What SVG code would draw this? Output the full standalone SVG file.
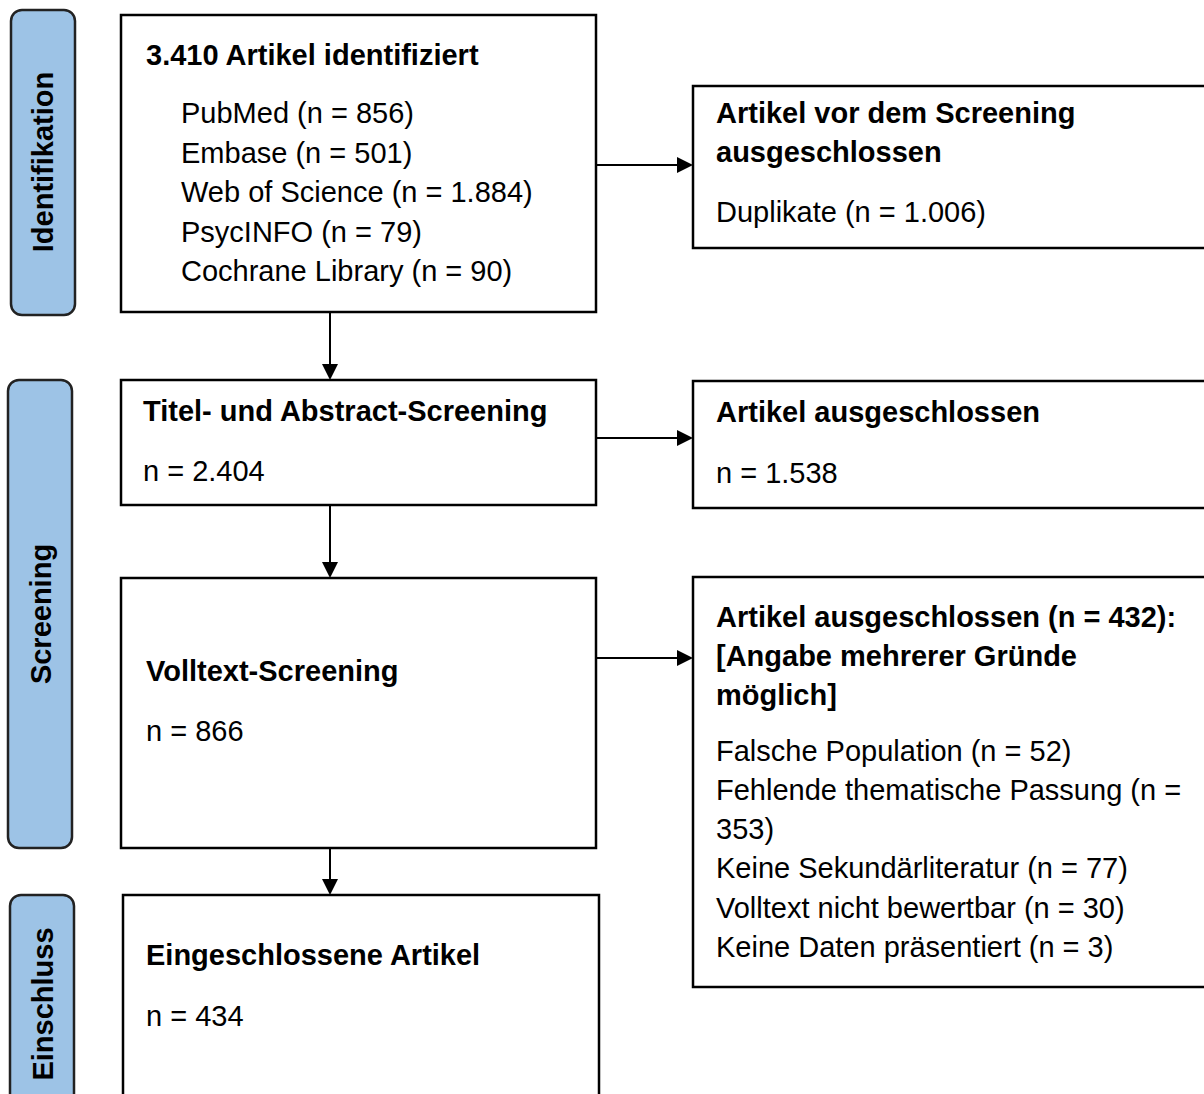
<svg xmlns="http://www.w3.org/2000/svg" width="1204" height="1094" viewBox="0 0 1204 1094">
<style>
.box{fill:#fff;stroke:#000;stroke-width:2.5}
.bar{fill:#9dc3e6;stroke:#222;stroke-width:2.5}
.t{font-family:"Liberation Sans",Arial,sans-serif;font-size:29px;fill:#000}
.b{font-weight:bold}
.v{font-family:"Liberation Sans",Arial,sans-serif;font-size:29px;font-weight:bold;fill:#000;text-anchor:middle}
.c{stroke:#000;stroke-width:2;fill:none}
</style>
<defs>
<marker id="ah" markerWidth="8" markerHeight="8" refX="7" refY="4" orient="auto" markerUnits="strokeWidth">
<path d="M0,0 L8,4 L0,8 Z" fill="#000"/>
</marker>
</defs>
<rect width="1204" height="1094" fill="#fff"/>
<g id="phase-identifikation">
<rect class="bar" x="11" y="10" width="64" height="305" rx="11"/>
<text class="v" transform="translate(53,162) rotate(-90)">Identifikation</text>
</g>
<g id="phase-screening">
<rect class="bar" x="8" y="380" width="64" height="468" rx="11"/>
<text class="v" transform="translate(51,614) rotate(-90)">Screening</text>
</g>
<g id="phase-einschluss">
<rect class="bar" x="10" y="895" width="64" height="215" rx="11"/>
<text class="v" transform="translate(53,1004) rotate(-90)">Einschluss</text>
</g>
<g id="n1">
<rect class="box" x="121" y="15" width="475" height="297"/>
<text class="t b" x="146" y="65">3.410 Artikel identifiziert</text>
<text class="t" x="181" y="123">PubMed (n = 856)</text>
<text class="t" x="181" y="163">Embase (n = 501)</text>
<text class="t" x="181" y="202">Web of Science (n = 1.884)</text>
<text class="t" x="181" y="242">PsycINFO (n = 79)</text>
<text class="t" x="181" y="281">Cochrane Library (n = 90)</text>
</g>
<g id="n2">
<rect class="box" x="693" y="86" width="520" height="162"/>
<text class="t b" x="716" y="123">Artikel vor dem Screening</text>
<text class="t b" x="716" y="162">ausgeschlossen</text>
<text class="t" x="716" y="222">Duplikate (n = 1.006)</text>
</g>
<g id="n3">
<rect class="box" x="121" y="380" width="475" height="125"/>
<text class="t b" x="143" y="421">Titel- und Abstract-Screening</text>
<text class="t" x="143" y="481">n = 2.404</text>
</g>
<g id="n4">
<rect class="box" x="693" y="381" width="520" height="127"/>
<text class="t b" x="716" y="422">Artikel ausgeschlossen</text>
<text class="t" x="716" y="483">n = 1.538</text>
</g>
<g id="n5">
<rect class="box" x="121" y="578" width="475" height="270"/>
<text class="t b" x="146" y="681">Volltext-Screening</text>
<text class="t" x="146" y="741">n = 866</text>
</g>
<g id="n6">
<rect class="box" x="693" y="577" width="520" height="410"/>
<text class="t b" x="716" y="627">Artikel ausgeschlossen (n = 432):</text>
<text class="t b" x="716" y="666">[Angabe mehrerer Gründe</text>
<text class="t b" x="716" y="705">möglich]</text>
<text class="t" x="716" y="761">Falsche Population (n = 52)</text>
<text class="t" x="716" y="800">Fehlende thematische Passung (n =</text>
<text class="t" x="716" y="839">353)</text>
<text class="t" x="716" y="878">Keine Sekundärliteratur (n = 77)</text>
<text class="t" x="716" y="918">Volltext nicht bewertbar (n = 30)</text>
<text class="t" x="716" y="957">Keine Daten präsentiert (n = 3)</text>
</g>
<g id="n7">
<rect class="box" x="123" y="895" width="476" height="215"/>
<text class="t b" x="146" y="965">Eingeschlossene Artikel</text>
<text class="t" x="146" y="1026">n = 434</text>
</g>
<g id="connectors">
<line class="c" x1="330" y1="312" x2="330" y2="378" marker-end="url(#ah)"/>
<line class="c" x1="330" y1="505" x2="330" y2="576" marker-end="url(#ah)"/>
<line class="c" x1="330" y1="848" x2="330" y2="893" marker-end="url(#ah)"/>
<line class="c" x1="596" y1="165" x2="691" y2="165" marker-end="url(#ah)"/>
<line class="c" x1="596" y1="438" x2="691" y2="438" marker-end="url(#ah)"/>
<line class="c" x1="596" y1="658" x2="691" y2="658" marker-end="url(#ah)"/>
</g>
</svg>
